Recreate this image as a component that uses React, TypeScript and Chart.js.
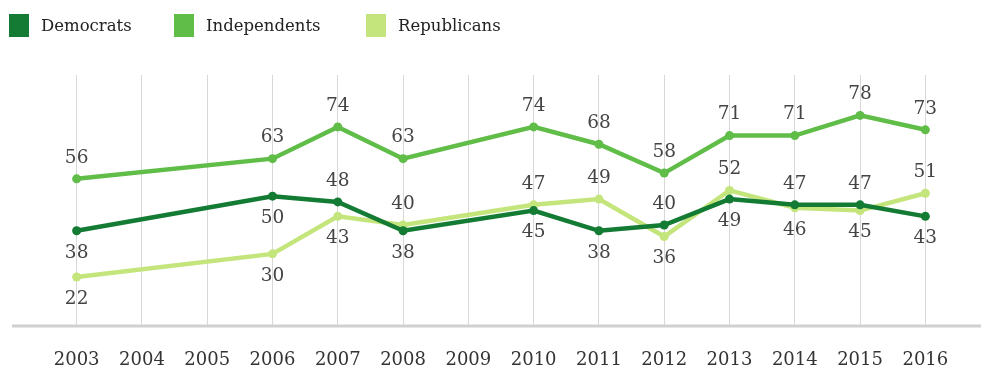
import React, { useEffect, useRef } from "react";
import { Chart, registerables } from "chart.js";

Chart.register(...registerables);

const years = ["2003", "2004", "2005", "2006", "2007", "2008", "2009", "2010", "2011", "2012", "2013", "2014", "2015", "2016"];
const democrats = [38, null, null, 50, 48, 38, null, 45, 38, 40, 49, 47, 47, 43];
const independents = [56, null, null, 63, 74, 63, null, 74, 68, 58, 71, 71, 78, 73];
const republicans = [22, null, null, 30, 43, 40, null, 47, 49, 36, 52, 46, 45, 51];
const seriesNames = ["Democrats", "Independents", "Republicans"];
const seriesColors = ["#137b33", "#5fbd48", "#c4e57c"];
// label placement relative to each point: a = above, b = below
const demSides = ["b", "", "", "b", "a", "b", "", "b", "b", "a", "b", "a", "a", "b"];
const indSides = ["a", "", "", "a", "a", "a", "", "a", "a", "a", "a", "a", "a", "a"];
const repSides = ["b", "", "", "b", "b", "a", "", "a", "a", "b", "a", "b", "b", "a"];

const FONT = "'DejaVu Serif', 'Liberation Serif', serif";
const labelSides = [demSides, indSides, repSides];
const seriesData = [democrats, independents, republicans];
const legendWidths = [165, 192, 200];

const baselinePlugin = {
  id: "baseline",
  beforeDatasetsDraw(chart: any) {
    const { ctx, chartArea, width } = chart;
    ctx.save();
    ctx.strokeStyle = "#d0d0d0";
    ctx.lineWidth = 3;
    ctx.beginPath();
    ctx.moveTo(12, chartArea.bottom);
    ctx.lineTo(width, chartArea.bottom);
    ctx.stroke();
    ctx.restore();
  },
};

const labelPlugin = {
  id: "pointLabels",
  afterDatasetsDraw(chart: any) {
    const ctx = chart.ctx;
    ctx.save();
    ctx.font = `18.5px ${FONT}`;
    ctx.fillStyle = "#444";
    ctx.textAlign = "center";
    ctx.textBaseline = "middle";
    chart.data.datasets.forEach((ds: any, i: number) => {
      const meta = chart.getDatasetMeta(i);
      meta.data.forEach((pt: any, j: number) => {
        const v = ds.data[j];
        if (v == null) return;
        const side = labelSides[i][j];
        const y = pt.y + (side === "a" ? -21 : 22);
        ctx.fillText(String(v), pt.x, y);
      });
    });
    ctx.restore();
  },
};

export default function App() {
  const ref = useRef<HTMLCanvasElement | null>(null);

  useEffect(() => {
    if (!ref.current) return;
    const chart = new Chart(ref.current, {
      type: "line",
      data: {
        labels: years,
        datasets: seriesNames.map((name, i) => ({
          label: name,
          data: seriesData[i],
          borderColor: seriesColors[i],
          backgroundColor: seriesColors[i],
          pointBackgroundColor: seriesColors[i],
          pointBorderColor: seriesColors[i],
          borderWidth: 4.5,
          pointRadius: 4.5,
          pointBorderWidth: 0,
          spanGaps: true,
          tension: 0,
        })),
      },
      options: {
        animation: false,
        responsive: false,
        events: [],
        layout: { padding: { left: 44, right: 23, top: 75, bottom: 0 } },
        plugins: {
          legend: { display: false },
          tooltip: { enabled: false },
        },
        scales: {
          x: {
            offset: true,
            grid: { display: true, color: "#d8d8d8", lineWidth: 1, drawTicks: false, offset: false },
            border: { display: false },
            afterFit(scale: any) {
              scale.height = 45;
            },
            ticks: {
              padding: 24,
              color: "#333",
              font: { family: FONT, size: 18 },
              maxRotation: 0,
              autoSkip: false,
            },
          },
          y: {
            display: false,
            min: 5,
            max: 92,
          },
        },
      },
      plugins: [baselinePlugin, labelPlugin],
    });
    return () => chart.destroy();
  }, []);

  return (
    <div style={{ position: "absolute", left: 0, top: 0, width: 981, height: 371, background: "#fff" }}>
      <canvas ref={ref} width={981} height={371} style={{ width: 981, height: 371, display: "block" }} />
      <div style={{ position: "absolute", left: 9, top: 14, display: "flex", height: 23 }}>
        {seriesNames.map((name, i) => (
          <div key={name} style={{ display: "flex", alignItems: "center", width: legendWidths[i], height: 23 }}>
            <div style={{ width: 20, height: 23, background: seriesColors[i], marginRight: 12 }} />
            <span style={{ fontFamily: FONT, fontSize: 16.5, color: "#222", whiteSpace: "nowrap" }}>{name}</span>
          </div>
        ))}
      </div>
    </div>
  );
}
